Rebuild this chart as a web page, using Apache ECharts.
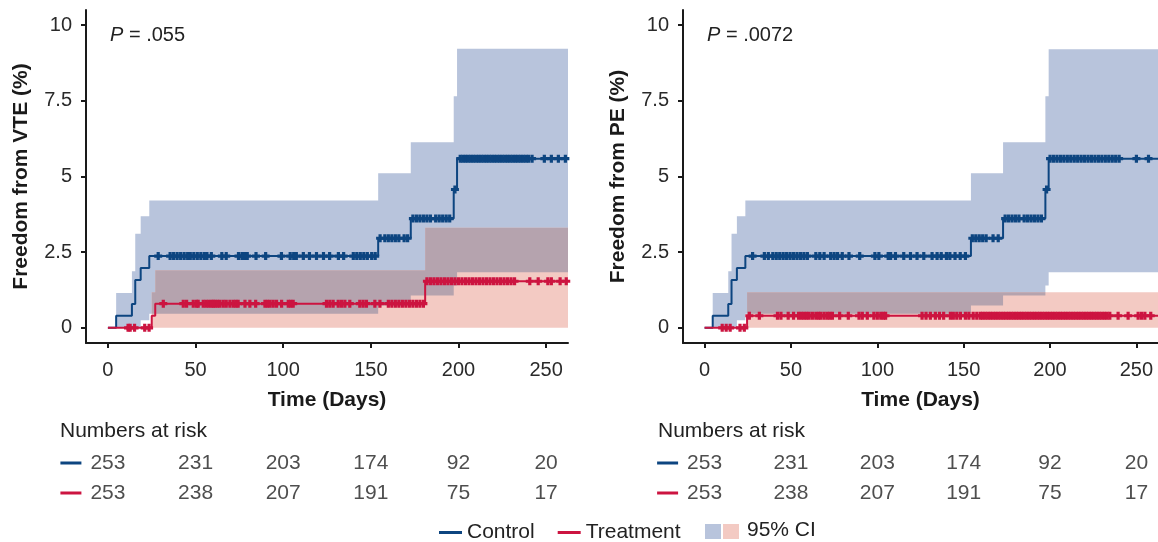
<!DOCTYPE html>
<html><head><meta charset="utf-8">
<script src="https://cdn.jsdelivr.net/npm/echarts@6/dist/echarts.min.js"></script>
<style>html,body{margin:0;padding:0;background:#fff}#c{width:1158px;height:542px}</style>
</head><body><div id="c"></div>
<script>
// ---------- data ----------
const xTicks = [0, 50, 100, 150, 200, 250];
const yTicks = [0, 2.5, 5, 7.5, 10];
const riskTimes = [0, 50, 100, 150, 200, 250];
const riskControl = [253, 231, 203, 174, 92, 20];
const riskTreatment = [253, 238, 207, 191, 75, 17];

// Left panel: VTE
const vteControlTime  = [0, 4.7, 13.7, 15.6, 18.7, 23.6, 154.2, 172.8, 197.3, 199.2, 262.5];
const vteControlPct   = [0, 0.40, 0.79, 1.58, 1.98, 2.37, 2.96, 3.61, 4.57, 5.59, 5.59];
const vteControlLower = [0, 0, 0, 0, 0.25, 0.47, 0.74, 1.07, 1.40, 1.84, 1.84];
const vteControlUpper = [0, 1.15, 1.87, 3.11, 3.69, 4.21, 5.11, 6.13, 7.65, 9.22, 9.22];
const vteTreatTime  = [0, 25.0, 27.0, 181.0, 262.5];
const vteTreatPct   = [0, 0.40, 0.80, 1.54, 1.54];
const vteTreatLower = [0, 0, 0, 0, 0];
const vteTreatUpper = [0, 1.18, 1.90, 3.31, 3.31];
const vteControlCensor = [28.7, 35.5, 37.5, 39.5, 41.5, 43.5, 45.5, 47, 49, 51, 53, 55, 56.5, 59, 65, 67.5, 74.5, 76.5, 78, 79.5, 84.5, 90, 99, 104, 106, 107.5, 111.5, 115, 119, 123, 126.5, 131.5, 134.5, 140, 142, 144, 146, 148, 150.5, 152.5, 155.3, 158, 160, 162, 164, 166, 169, 171, 174, 176, 178, 180, 182, 184, 187, 189, 191, 193, 195, 198, 201, 202.5, 204, 205.5, 207, 208.5, 210, 211.5, 213, 214.5, 216, 217.5, 219, 220.5, 222, 223.5, 225, 226.5, 228, 229.5, 231, 232.5, 234, 235.5, 237, 238.5, 240, 242, 249, 253, 257, 261];
const vteTreatCensor = [11.5, 12.7, 15.2, 21, 23.5, 31.6, 43, 44.9, 48.7, 50.6, 51.5, 54.4, 56, 57.5, 59, 60.1, 61.1, 62.5, 63.9, 65.8, 67.5, 69.6, 71.5, 73, 74.3, 78.2, 81, 84.3, 89.6, 91, 92.5, 94.3, 96.2, 99.1, 102.9, 104.3, 105.7, 124.7, 126.6, 128.5, 131.4, 133.3, 135.2, 138, 143.7, 145.6, 147.5, 152.3, 155.2, 160, 162, 164, 166, 168, 170, 172, 174, 176, 178, 180, 182, 184, 186, 188, 190, 192, 194, 196, 198, 200, 202, 204, 206, 208, 210, 212, 214, 216, 218, 220, 222, 224, 226, 228, 230, 232, 240.7, 245.5, 251, 253, 258, 261.5];

// Right panel: PE
const peControlTime  = [0, 4.7, 13.7, 15.6, 18.7, 23.6, 154.2, 172.8, 197.3, 199.2, 262.5];
const peControlPct   = [0, 0.40, 0.79, 1.58, 1.98, 2.37, 2.96, 3.61, 4.57, 5.59, 5.59];
const peControlLower = [0, 0, 0, 0, 0.25, 0.47, 0.74, 1.07, 1.40, 1.84, 1.84];
const peControlUpper = [0, 1.15, 1.87, 3.11, 3.69, 4.21, 5.11, 6.13, 7.65, 9.20, 9.20];
const peTreatTime  = [0, 24.6, 262.5];
const peTreatPct   = [0, 0.40, 0.40];
const peTreatLower = [0, 0, 0];
const peTreatUpper = [0, 1.18, 1.18];
const peControlCensor = [27.8, 34.6, 36.9, 39.5, 41.5, 43.5, 45.5, 47.5, 49.5, 51.5, 53.5, 55.5, 57.5, 59.5, 64.4, 66.7, 69.2, 73, 75, 77, 79.7, 83.6, 89.8, 98.6, 100.9, 106.3, 107.7, 110.5, 115.3, 119.2, 123, 126.9, 131.7, 134.6, 137, 140, 142, 145, 148, 151, 155, 157, 159, 161, 163, 167, 170, 174, 176, 178, 180, 182, 185, 187, 189, 191, 193, 195, 198, 200, 202, 204, 206, 208, 210, 212, 214, 216, 218, 220, 222, 224, 226, 228, 230, 232, 234, 236, 238, 240, 250, 257];
const peTreatCensor = [10.2, 12.5, 14.8, 20.5, 23, 25.9, 31.7, 42.2, 44.2, 48.4, 51.5, 54.4, 56, 57.5, 59, 60.5, 62.4, 64.4, 66, 67.3, 69.2, 71, 72.5, 74, 78.2, 83.2, 89.4, 91.3, 94.2, 98, 100, 102, 103.5, 104.8, 125.9, 128.2, 130.7, 133.6, 136, 138.4, 142.3, 144, 146, 148.1, 151, 153, 155.5, 157.6, 159.6, 161, 162.5, 164, 165.5, 167, 168.5, 170, 171.5, 173, 174.5, 176, 177.5, 179, 180.5, 182, 183.5, 185, 186.5, 188, 189.5, 191, 192.5, 194, 195.5, 197, 198.5, 200, 201.5, 203, 204.5, 206, 207.5, 209, 210.5, 212, 213.5, 215, 216.5, 218, 219.5, 221, 222.5, 224, 225.5, 227, 228.5, 230, 231.5, 233, 234.6, 239.4, 245.2, 251, 253, 254.9, 258.3];

// ---------- style ----------
const FONT = '"Liberation Sans", Arial, Helvetica, sans-serif';
const BLUE = '#0d4580', RED = '#cc1440';
const BLUE_BAND = '#b8c4dc', PINK_BAND = '#f3cac3', OVERLAP_BAND = '#b5a3ae';
const TXT = '#222';
const PLUS = 'path://M3,0H7V3H10V7H7V10H3V7H0V3H3Z';

function stepAt(times, vals, t) { let v = vals[0]; for (let i = 0; i < times.length; i++) if (times[i] <= t) v = vals[i]; return v; }
function zip(a, b) { return a.map((t, i) => [t, b[i]]); }
function bandPolygon(api, times, lo, hi) {
  const pts = [];
  const n = times.length;
  for (let i = 0; i < n; i++) { pts.push(api.coord([times[i], hi[i]])); if (i < n - 1) pts.push(api.coord([times[i + 1], hi[i]])); }
  for (let i = n - 1; i >= 0; i--) { if (i < n - 1) pts.push(api.coord([times[i + 1], lo[i]])); pts.push(api.coord([times[i], lo[i]])); }
  return pts;
}
function bandSeries(axis, times, lo, hi, color, z) {
  return { type: 'custom', xAxisIndex: axis, yAxisIndex: axis, silent: true, z: z, data: [[times[0], lo[0]]],
    renderItem: (params, api) => ({ type: 'polygon', shape: { points: bandPolygon(api, times, lo, hi) }, style: { fill: color, stroke: null } }) };
}
// where the two confidence bands overlap
function overlapSeries(axis, tA, loA, hiA, tB, loB, hiB, color, z) {
  return { type: 'custom', xAxisIndex: axis, yAxisIndex: axis, silent: true, z: z, data: [[tA[0], loA[0]]],
    renderItem: (params, api) => {
      const ts = Array.from(new Set(tA.concat(tB))).sort((a, b) => a - b);
      const lo = [], hi = [];
      ts.forEach(t => {
        const l = Math.max(stepAt(tA, loA, t), stepAt(tB, loB, t));
        const h = Math.min(stepAt(tA, hiA, t), stepAt(tB, hiB, t));
        lo.push(l); hi.push(h > l ? h : l);
      });
      return { type: 'polygon', shape: { points: bandPolygon(api, ts, lo, hi) }, style: { fill: color, stroke: null } };
    } };
}
function lineSeries(axis, name, times, pct, color) {
  return { type: 'line', name: name, xAxisIndex: axis, yAxisIndex: axis, data: zip(times, pct), step: 'end',
    showSymbol: false, symbol: 'none', lineStyle: { width: 2, color: color }, itemStyle: { color: color }, z: 4, silent: true };
}
function censorSeries(axis, name, censor, times, pct, color) {
  return { type: 'scatter', name: name, xAxisIndex: axis, yAxisIndex: axis, data: censor.map(t => [t, stepAt(times, pct, t)]),
    symbol: PLUS, symbolSize: [8, 8], itemStyle: { color: color, opacity: 1 }, z: 5, silent: true };
}
function plotXAxis(grid) {
  return { type: 'value', gridIndex: grid, min: -12.5, max: 262.5, name: 'Time (Days)', nameLocation: 'middle', nameGap: 47,
    nameTextStyle: { fontSize: 21, fontWeight: 'bold', color: '#1a1a1a', fontFamily: FONT },
    axisLine: { onZero: false, lineStyle: { color: '#1a1a1a', width: 2 } },
    axisTick: { show: true, length: 5, lineStyle: { color: '#1a1a1a', width: 2 }, customValues: xTicks },
    axisLabel: { fontSize: 20, color: '#2a2a2a', margin: 17, fontFamily: FONT, customValues: xTicks, formatter: v => String(v) },
    splitLine: { show: false } };
}
function plotYAxis(grid, title) {
  return { type: 'value', gridIndex: grid, min: -0.5, max: 10.5, name: title, nameLocation: 'middle', nameGap: 54,
    nameTextStyle: { fontSize: 21, fontWeight: 'bold', color: '#1a1a1a', fontFamily: FONT },
    axisLine: { show: true, onZero: false, lineStyle: { color: '#1a1a1a', width: 2 } },
    axisTick: { show: true, length: 5, lineStyle: { color: '#1a1a1a', width: 2 }, customValues: yTicks },
    axisLabel: { fontSize: 20, color: '#2a2a2a', margin: 14, fontFamily: FONT, customValues: yTicks, formatter: v => String(v) },
    splitLine: { show: false } };
}
function riskSeries(axis, row, vals) {
  return { type: 'scatter', xAxisIndex: axis, yAxisIndex: axis, silent: true, symbolSize: 1, itemStyle: { color: 'rgba(0,0,0,0)' },
    data: riskTimes.map((t, i) => [t, row, vals[i]]),
    label: { show: true, position: 'inside', formatter: p => String(p.value[2]), fontSize: 21, color: TXT, fontFamily: FONT } };
}
function riskDash(axis, row, color) {
  return { type: 'scatter', xAxisIndex: axis, yAxisIndex: axis, silent: true, clip: false, data: [[riskTimes[0], row]],
    symbol: 'rect', symbolSize: [21, 3], symbolOffset: [-37, 0], itemStyle: { color: color, opacity: 1 } };
}

const option = {
  animation: false,
  textStyle: { fontFamily: FONT },
  grid: [
    { left: 86, top: 10, width: 482, height: 333 },
    { left: 683, top: 10, width: 477, height: 333 },
    { left: 86, top: 448, width: 482, height: 60 },
    { left: 683, top: 448, width: 477, height: 60 }
  ],
  xAxis: [plotXAxis(0), plotXAxis(1),
    { type: 'value', gridIndex: 2, min: -12.5, max: 262.5, show: false },
    { type: 'value', gridIndex: 3, min: -12.5, max: 262.5, show: false }],
  yAxis: [plotYAxis(0, 'Freedom from VTE (%)'), plotYAxis(1, 'Freedom from PE (%)'),
    { type: 'category', gridIndex: 2, data: ['Treatment', 'Control'], show: false },
    { type: 'category', gridIndex: 3, data: ['Treatment', 'Control'], show: false }],
  legend: {
    left: 434, top: 517, itemWidth: 23, itemHeight: 3, itemGap: 23, selectedMode: false,
    textStyle: { fontSize: 21, color: TXT, fontFamily: FONT },
    data: [{ name: 'Control', icon: 'rect' }, { name: 'Treatment', icon: 'rect' }]
  },
  graphic: [
    { type: 'text', left: 110, top: 25, style: { rich: { i: { fontStyle: 'italic', fontSize: 20, fill: TXT, fontFamily: FONT }, n: { fontSize: 20, fill: TXT, fontFamily: FONT } }, text: '{i|P}{n| = .055}' } },
    { type: 'text', left: 707, top: 25, style: { rich: { i: { fontStyle: 'italic', fontSize: 20, fill: TXT, fontFamily: FONT }, n: { fontSize: 20, fill: TXT, fontFamily: FONT } }, text: '{i|P}{n| = .0072}' } },
    { type: 'text', left: 60, top: 421, style: { text: 'Numbers at risk', fontSize: 21, fill: TXT, fontFamily: FONT } },
    { type: 'text', left: 658, top: 421, style: { text: 'Numbers at risk', fontSize: 21, fill: TXT, fontFamily: FONT } },
    { type: 'rect', left: 705, top: 524, shape: { width: 16, height: 15 }, style: { fill: BLUE_BAND } },
    { type: 'rect', left: 723, top: 524, shape: { width: 16, height: 15 }, style: { fill: PINK_BAND } },
    { type: 'text', left: 747, top: 520, style: { text: '95% CI', fontSize: 21, fill: TXT, fontFamily: FONT } }
  ],
  series: [
    bandSeries(0, vteControlTime, vteControlLower, vteControlUpper, BLUE_BAND, 1),
    bandSeries(0, vteTreatTime, vteTreatLower, vteTreatUpper, PINK_BAND, 2),
    overlapSeries(0, vteControlTime, vteControlLower, vteControlUpper, vteTreatTime, vteTreatLower, vteTreatUpper, OVERLAP_BAND, 3),
    lineSeries(0, 'Control', vteControlTime, vteControlPct, BLUE),
    lineSeries(0, 'Treatment', vteTreatTime, vteTreatPct, RED),
    censorSeries(0, 'Control censored', vteControlCensor, vteControlTime, vteControlPct, BLUE),
    censorSeries(0, 'Treatment censored', vteTreatCensor, vteTreatTime, vteTreatPct, RED),

    bandSeries(1, peControlTime, peControlLower, peControlUpper, BLUE_BAND, 1),
    bandSeries(1, peTreatTime, peTreatLower, peTreatUpper, PINK_BAND, 2),
    overlapSeries(1, peControlTime, peControlLower, peControlUpper, peTreatTime, peTreatLower, peTreatUpper, OVERLAP_BAND, 3),
    lineSeries(1, 'Control', peControlTime, peControlPct, BLUE),
    lineSeries(1, 'Treatment', peTreatTime, peTreatPct, RED),
    censorSeries(1, 'Control censored', peControlCensor, peControlTime, peControlPct, BLUE),
    censorSeries(1, 'Treatment censored', peTreatCensor, peTreatTime, peTreatPct, RED),

    riskSeries(2, 'Control', riskControl), riskSeries(2, 'Treatment', riskTreatment),
    riskDash(2, 'Control', BLUE), riskDash(2, 'Treatment', RED),
    riskSeries(3, 'Control', riskControl), riskSeries(3, 'Treatment', riskTreatment),
    riskDash(3, 'Control', BLUE), riskDash(3, 'Treatment', RED)
  ]
};
const chart = echarts.init(document.getElementById('c'), null, { renderer: 'canvas' });
chart.setOption(option);
</script></body></html>
